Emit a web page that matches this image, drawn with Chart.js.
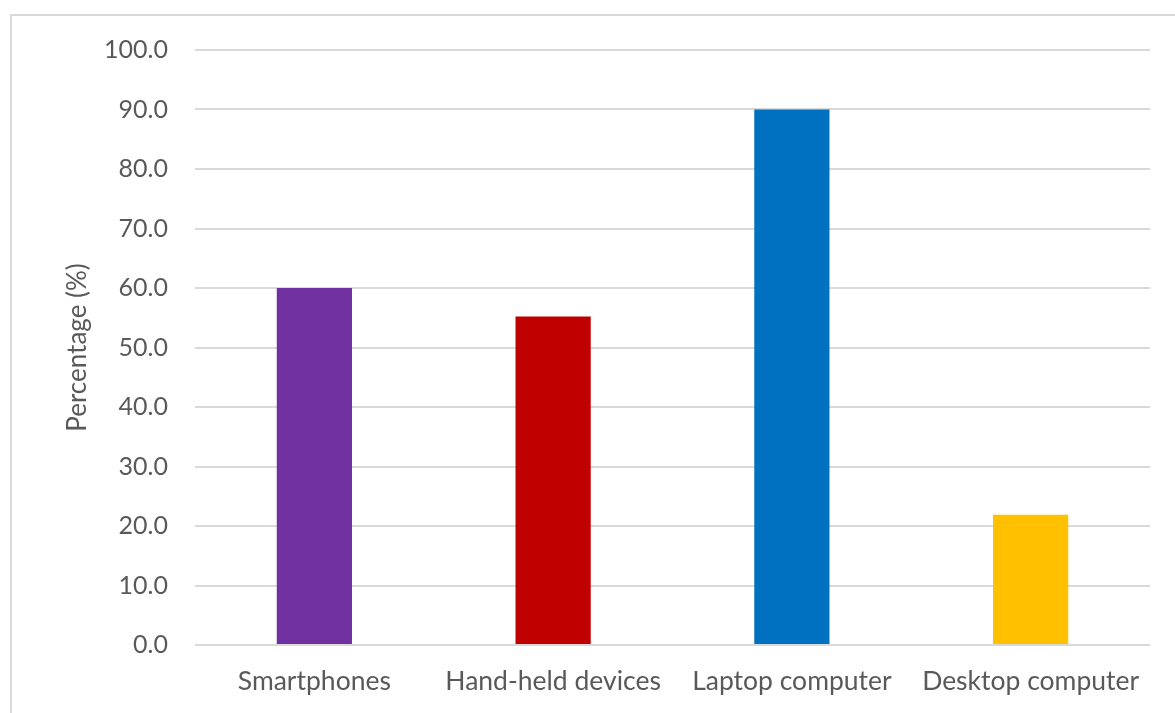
<!DOCTYPE html>
<html>
<head>
<meta charset="utf-8">
<script src="https://cdn.jsdelivr.net/npm/chart.js@4/dist/chart.umd.min.js"></script>
<style>
body{margin:0;background:#fff;overflow:hidden}
#wrap{position:relative;width:1175px;height:713px}
#frame{position:absolute;left:10px;top:14px;width:1200px;height:760px;border:2px solid #d9d9d9;pointer-events:none}
</style>
</head>
<body>
<div id="wrap">
<canvas id="myChart" width="1175" height="713"></canvas>
<div id="frame"></div>
</div>
<script>
var categories=["Smartphones","Hand-held devices","Laptop computer","Desktop computer"]
var percentages=[60.0,55.2,90.0,21.9]
var barColors=["#7030A0","#C00000","#0070C0","#FFC000"]
var yTicks=[0,10,20,30,40,50,60,70,80,90,100]

Chart.defaults.font.family="Lato"
Chart.defaults.color="#595959"

var ctx=document.getElementById("myChart")
var myChart=new Chart(ctx,{
    type:"bar",
    data:{
        labels:categories,
        datasets:[{
            data:percentages,
            backgroundColor:barColors,
            categoryPercentage:1,
            barPercentage:0.315
        }]
    },
    options:{
        responsive:false,
        animation:false,
        layout:{padding:{left:58,top:50,right:25,bottom:0}},
        plugins:{legend:{display:false},tooltip:{enabled:false}},
        scales:{
            x:{
                grid:{display:false,drawTicks:false},
                border:{display:false},
                ticks:{font:{size:26.5},padding:21,maxRotation:0},
                afterFit:function(scale){scale.height=68}
            },
            y:{
                min:0,max:100,
                grid:{color:"#d9d9d9",lineWidth:2,drawTicks:false},
                border:{display:false},
                afterBuildTicks:function(scale){scale.ticks=yTicks.map(function(v){return {value:v}})},
                ticks:{font:{size:25},padding:27,callback:function(v){return v.toFixed(1)}},
                title:{display:true,text:"Percentage (%)",font:{size:26},padding:{top:4,bottom:4}},
                afterFit:function(scale){scale.width=137}
            }
        }
    }
})
</script>
</body>
</html>
